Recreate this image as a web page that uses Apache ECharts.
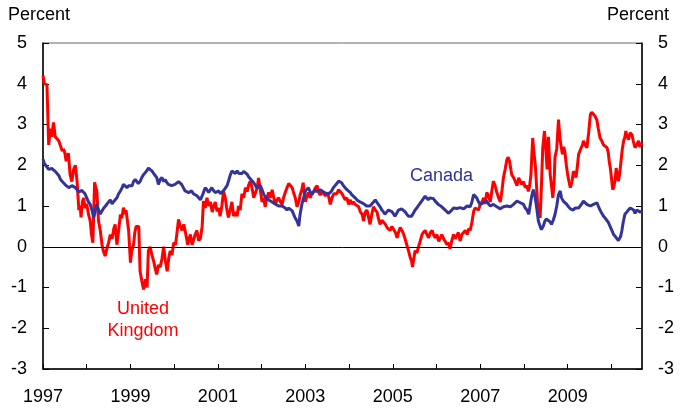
<!DOCTYPE html>
<html>
<head>
<meta charset="utf-8">
<script src="https://cdn.jsdelivr.net/npm/echarts@6/dist/echarts.min.js"></script>
<style>
html, body { margin: 0; padding: 0; background: #fff; }
#chart { width: 687px; height: 415px; }
</style>
</head>
<body>
<div id="chart"></div>
<script>
// United Kingdom (decimal year, percent)
var ukYears = [
  1997.00,1997.03,1997.09,1997.13,1997.17,1997.20,1997.24,1997.28,1997.32,1997.36,1997.40,1997.44,1997.47,1997.50,1997.53,1997.55,1997.58,1997.62,1997.66,1997.70,
  1997.74,1997.78,1997.82,1997.85,1997.87,1997.90,1997.93,1997.96,1998.00,1998.04,1998.08,1998.11,1998.14,1998.18,1998.21,1998.23,1998.27,1998.31,1998.35,1998.38,
  1998.42,1998.46,1998.50,1998.54,1998.58,1998.62,1998.65,1998.69,1998.73,1998.77,1998.80,1998.84,1998.87,1998.90,1998.96,1999.00,1999.03,1999.07,1999.10,1999.13,
  1999.19,1999.22,1999.26,1999.30,1999.34,1999.38,1999.41,1999.45,1999.49,1999.53,1999.57,1999.60,1999.64,1999.68,1999.72,1999.76,1999.80,1999.84,1999.88,1999.91,
  1999.95,1999.99,2000.03,2000.06,2000.10,2000.14,2000.18,2000.22,2000.25,2000.31,2000.34,2000.37,2000.41,2000.44,2000.48,2000.52,2000.56,2000.60,2000.64,2000.67,
  2000.71,2000.75,2000.79,2000.83,2000.87,2000.90,2000.94,2000.98,2001.02,2001.05,2001.09,2001.13,2001.17,2001.20,2001.24,2001.28,2001.32,2001.36,2001.40,2001.44,
  2001.47,2001.51,2001.55,2001.59,2001.63,2001.67,2001.70,2001.74,2001.78,2001.82,2001.86,2001.90,2001.93,2001.97,2002.01,2002.05,2002.08,2002.12,2002.16,2002.20,
  2002.24,2002.27,2002.31,2002.35,2002.39,2002.43,2002.47,2002.50,2002.54,2002.58,2002.62,2002.66,2002.70,2002.73,2002.77,2002.81,2002.85,2002.88,2002.92,2002.95,
  2002.98,2003.00,2003.04,2003.07,2003.11,2003.15,2003.19,2003.23,2003.27,2003.30,2003.34,2003.38,2003.42,2003.46,2003.51,2003.54,2003.57,2003.61,2003.65,2003.68,
  2003.72,2003.76,2003.80,2003.84,2003.87,2003.91,2003.95,2003.99,2004.03,2004.06,2004.10,2004.14,2004.18,2004.22,2004.26,2004.30,2004.33,2004.37,2004.41,2004.45,
  2004.48,2004.52,2004.56,2004.60,2004.64,2004.67,2004.71,2004.75,2004.79,2004.83,2004.87,2004.90,2004.94,2004.98,2005.02,2005.06,2005.10,2005.13,2005.17,2005.21,
  2005.25,2005.28,2005.32,2005.36,2005.40,2005.43,2005.45,2005.48,2005.51,2005.55,2005.59,2005.63,2005.67,2005.70,2005.74,2005.78,2005.82,2005.86,2005.90,2005.93,
  2005.97,2006.01,2006.05,2006.08,2006.12,2006.16,2006.20,2006.24,2006.27,2006.31,2006.35,2006.39,2006.43,2006.47,2006.50,2006.54,2006.58,2006.62,2006.66,2006.70,
  2006.74,2006.77,2006.81,2006.85,2006.88,2006.92,2006.96,2007.00,2007.04,2007.08,2007.11,2007.15,2007.19,2007.23,2007.27,2007.30,2007.34,2007.38,2007.42,2007.46,
  2007.50,2007.53,2007.57,2007.61,2007.64,2007.67,2007.70,2007.72,2007.76,2007.80,2007.84,2007.88,2007.92,2007.95,2007.99,2008.03,2008.07,2008.10,2008.13,2008.16,
  2008.20,2008.23,2008.26,2008.31,2008.34,2008.37,2008.40,2008.43,2008.47,2008.50,2008.53,2008.56,2008.60,2008.63,2008.66,2008.69,2008.71,2008.75,2008.79,2008.83,
  2008.86,2008.88,2008.91,2008.94,2008.97,2009.00,2009.03,2009.06,2009.10,2009.13,2009.16,2009.19,2009.22,2009.25,2009.28,2009.31,2009.34,2009.36,2009.40,2009.44,
  2009.48,2009.52,2009.55,2009.59,2009.63,2009.67,2009.70,2009.74,2009.78,2009.82,2009.86,2009.90,2009.93,2009.95,2009.98,2010.00,2010.03,2010.05,2010.08,2010.11,
  2010.14,2010.16,2010.19,2010.22,2010.25,2010.28,2010.31,2010.33,2010.36,2010.39,2010.43,2010.47,2010.50,2010.54,2010.58,2010.62,2010.65,2010.70
];
var ukValues = [
  4.2,4.0,3.98,2.5,2.9,2.7,3.05,2.7,2.68,2.6,2.58,2.35,2.4,2.3,2.1,2.07,2.3,1.77,1.6,1.9,
  2.0,1.6,0.9,1.0,0.72,1.1,1.2,0.95,1.05,0.8,0.63,0.3,0.1,1.58,1.45,1.37,0.63,0.4,0.05,-0.1,
  -0.23,-0.05,0.1,0.3,0.2,0.45,0.55,0.05,0.4,0.79,0.7,0.96,0.8,0.9,0.38,-0.39,-0.1,0.05,0.35,0.5,
  0.5,-0.6,-0.84,-1.05,-0.8,-1.0,-0.1,0.0,-0.2,-0.35,-0.55,-0.68,-0.45,-0.5,-0.3,0.0,-0.35,-0.6,-0.25,-0.1,
  -0.2,0.1,0.05,0.3,0.67,0.5,0.4,0.55,0.4,0.05,0.2,0.3,0.05,0.15,0.3,0.4,0.15,0.2,0.5,1.12,
  0.95,1.2,1.0,1.1,0.85,0.98,1.1,0.87,0.95,0.75,1.0,1.36,1.2,0.95,0.72,0.9,1.1,0.75,0.85,0.75,
  1.0,0.9,1.3,1.2,1.45,1.35,1.5,1.61,1.45,1.2,1.2,1.45,1.69,1.4,1.1,1.2,0.98,1.2,1.33,1.2,
  1.4,1.25,1.04,1.15,1.2,1.1,1.04,1.2,1.33,1.45,1.55,1.57,1.45,1.33,1.2,0.98,1.1,1.27,1.4,1.57,
  1.3,1.1,1.25,1.33,1.2,1.3,1.35,1.45,1.5,1.35,1.27,1.35,1.3,1.25,1.33,1.2,1.04,1.2,1.3,1.33,
  1.3,1.4,1.35,1.3,1.27,1.15,1.2,1.04,1.15,1.05,1.1,1.04,1.0,0.98,0.85,0.8,0.63,0.85,0.9,0.7,
  0.55,0.8,0.98,0.9,0.85,0.7,0.55,0.65,0.63,0.55,0.47,0.5,0.4,0.5,0.47,0.35,0.22,0.35,0.47,0.4,
  0.3,0.2,0.05,-0.1,-0.27,-0.35,-0.5,-0.3,-0.1,-0.15,0.0,0.15,0.3,0.35,0.4,0.3,0.22,0.35,0.4,0.3,
  0.22,0.3,0.13,0.2,0.3,0.2,0.13,0.05,0.1,-0.05,0.15,0.3,0.2,0.22,0.35,0.14,0.3,0.3,0.4,0.3,
  0.45,0.4,0.6,0.87,0.95,0.98,0.9,1.04,1.1,1.2,1.05,1.33,1.25,1.1,1.4,1.61,1.5,1.33,1.2,1.1,
  1.4,1.69,1.9,2.14,2.2,2.1,1.9,1.77,1.7,1.61,1.5,1.69,1.6,1.53,1.6,1.45,1.5,1.36,1.5,1.77,
  2.67,2.3,2.0,1.1,0.9,0.71,1.5,2.43,2.84,2.4,1.9,2.7,1.77,1.5,1.2,1.6,2.2,2.4,3.12,2.6,
  2.4,2.27,2.45,2.3,2.0,1.77,1.6,1.45,1.6,1.85,1.8,1.7,1.95,2.27,2.3,2.43,2.5,2.6,2.5,2.43,
  2.8,3.25,3.3,3.3,3.2,3.1,2.9,2.67,2.6,2.5,2.5,2.43,2.3,2.1,1.9,1.7,1.4,1.45,1.6,1.93,
  1.75,1.61,1.8,2.1,2.4,2.6,2.7,2.84,2.7,2.63,2.8,2.75,2.6,2.43,2.5,2.6,2.45,2.55
];

// Canada (decimal year, percent)
var caYears = [
  1997.00,1997.03,1997.06,1997.09,1997.13,1997.17,1997.20,1997.24,1997.28,1997.32,1997.36,1997.40,1997.44,1997.47,1997.51,1997.55,1997.59,1997.62,1997.66,1997.70,
  1997.74,1997.78,1997.82,1997.85,1997.89,1997.93,1997.96,1998.00,1998.04,1998.08,1998.12,1998.16,1998.20,1998.23,1998.27,1998.31,1998.35,1998.39,1998.43,1998.46,
  1998.50,1998.54,1998.58,1998.61,1998.65,1998.69,1998.73,1998.77,1998.81,1998.84,1998.88,1998.92,1998.96,1999.00,1999.04,1999.07,1999.11,1999.14,1999.18,1999.22,
  1999.26,1999.30,1999.34,1999.37,1999.41,1999.45,1999.49,1999.53,1999.56,1999.60,1999.64,1999.68,1999.72,1999.76,1999.79,1999.83,1999.87,1999.91,1999.94,1999.98,
  2000.02,2000.06,2000.10,2000.13,2000.17,2000.21,2000.25,2000.29,2000.33,2000.37,2000.40,2000.44,2000.48,2000.52,2000.56,2000.60,2000.62,2000.66,2000.71,2000.75,
  2000.79,2000.83,2000.86,2000.90,2000.94,2000.98,2001.02,2001.06,2001.09,2001.13,2001.17,2001.21,2001.24,2001.28,2001.32,2001.36,2001.40,2001.44,2001.48,2001.51,
  2001.55,2001.59,2001.63,2001.67,2001.70,2001.74,2001.78,2001.82,2001.86,2001.89,2001.93,2001.97,2002.01,2002.05,2002.09,2002.12,2002.16,2002.20,2002.24,2002.28,
  2002.31,2002.35,2002.39,2002.43,2002.47,2002.50,2002.54,2002.58,2002.62,2002.66,2002.70,2002.73,2002.77,2002.81,2002.85,2002.88,2002.92,2002.96,2003.00,2003.04,
  2003.07,2003.11,2003.15,2003.19,2003.22,2003.26,2003.30,2003.34,2003.37,2003.41,2003.45,2003.49,2003.53,2003.56,2003.60,2003.64,2003.68,2003.72,2003.76,2003.80,
  2003.83,2003.87,2003.91,2003.95,2003.99,2004.03,2004.06,2004.10,2004.14,2004.18,2004.21,2004.25,2004.29,2004.33,2004.36,2004.40,2004.44,2004.48,2004.52,2004.56,
  2004.60,2004.63,2004.67,2004.71,2004.75,2004.79,2004.82,2004.86,2004.90,2004.94,2004.98,2005.02,2005.05,2005.09,2005.13,2005.17,2005.20,2005.24,2005.28,2005.32,
  2005.36,2005.40,2005.43,2005.47,2005.51,2005.55,2005.58,2005.62,2005.66,2005.70,2005.74,2005.77,2005.81,2005.85,2005.89,2005.93,2005.97,2006.01,2006.04,2006.08,
  2006.12,2006.16,2006.20,2006.24,2006.27,2006.31,2006.35,2006.39,2006.43,2006.47,2006.50,2006.54,2006.58,2006.62,2006.66,2006.70,2006.74,2006.77,2006.81,2006.85,
  2006.88,2006.92,2006.96,2007.00,2007.04,2007.08,2007.11,2007.15,2007.19,2007.23,2007.27,2007.30,2007.34,2007.38,2007.42,2007.46,2007.50,2007.53,2007.57,2007.61,
  2007.65,2007.69,2007.72,2007.76,2007.80,2007.84,2007.88,2007.92,2007.95,2007.99,2008.03,2008.07,2008.11,2008.14,2008.17,2008.20,2008.22,2008.25,2008.28,2008.31,
  2008.33,2008.37,2008.40,2008.44,2008.48,2008.51,2008.55,2008.59,2008.63,2008.67,2008.71,2008.75,2008.79,2008.83,2008.86,2008.90,2008.94,2008.98,2009.02,2009.06,
  2009.09,2009.13,2009.17,2009.21,2009.25,2009.29,2009.32,2009.36,2009.40,2009.44,2009.48,2009.52,2009.55,2009.59,2009.63,2009.67,2009.70,2009.74,2009.78,2009.82,
  2009.86,2009.90,2009.93,2009.97,2010.01,2010.05,2010.09,2010.13,2010.16,2010.18,2010.21,2010.24,2010.27,2010.31,2010.35,2010.39,2010.43,2010.47,2010.51,2010.54,
  2010.58,2010.62,2010.66,2010.70
];
var caValues = [
  2.15,2.05,2.0,2.0,1.9,1.86,1.92,1.9,1.85,1.86,1.75,1.65,1.6,1.58,1.52,1.5,1.45,1.47,1.5,1.53,
  1.45,1.43,1.35,1.33,1.38,1.37,1.3,1.2,1.1,1.04,0.9,0.71,0.9,1.04,0.9,0.8,0.88,0.95,1.0,1.04,
  1.1,1.15,1.05,1.1,1.12,1.2,1.3,1.37,1.45,1.53,1.5,1.45,1.5,1.53,1.5,1.6,1.65,1.67,1.55,1.6,
  1.7,1.77,1.8,1.86,1.93,1.9,1.86,1.8,1.77,1.7,1.53,1.65,1.7,1.6,1.65,1.58,1.53,1.55,1.5,1.52,
  1.53,1.55,1.6,1.57,1.53,1.45,1.37,1.35,1.33,1.37,1.37,1.3,1.28,1.25,1.2,1.15,1.12,1.3,1.45,1.4,
  1.33,1.4,1.45,1.38,1.33,1.35,1.37,1.3,1.33,1.38,1.4,1.5,1.6,1.75,1.86,1.82,1.8,1.86,1.8,1.78,
  1.8,1.85,1.86,1.78,1.72,1.7,1.62,1.57,1.5,1.45,1.48,1.5,1.4,1.28,1.22,1.2,1.15,1.12,1.1,1.08,
  1.05,1.04,1.0,0.98,1.0,1.04,0.95,0.9,0.95,0.98,0.88,0.8,0.7,0.63,0.51,0.8,1.04,1.2,1.37,1.4,
  1.45,1.35,1.28,1.35,1.4,1.35,1.33,1.4,1.37,1.35,1.33,1.3,1.28,1.32,1.37,1.45,1.5,1.55,1.61,1.6,
  1.57,1.5,1.45,1.4,1.37,1.33,1.28,1.25,1.2,1.15,1.12,1.1,1.08,1.06,1.04,1.0,0.98,1.0,1.04,1.1,
  1.15,1.1,1.04,0.98,0.9,0.85,0.8,0.85,0.9,0.88,0.86,0.8,0.75,0.82,0.9,0.92,0.93,0.9,0.86,0.8,
  0.75,0.72,0.75,0.82,0.9,0.95,1.0,1.06,1.12,1.18,1.24,1.2,1.15,1.2,1.24,1.18,1.12,1.08,1.04,1.0,
  0.98,0.94,0.9,0.86,0.82,0.86,0.9,0.95,0.98,0.94,0.9,0.96,0.98,0.93,0.97,1.0,0.98,0.98,1.1,1.28,
  1.25,1.2,1.1,1.04,1.06,1.08,1.1,1.12,1.05,1.0,1.02,1.04,1.0,0.98,0.95,0.93,0.96,0.98,1.0,1.0,
  0.97,0.98,1.0,1.04,1.08,1.12,1.1,1.08,1.06,1.04,0.95,0.9,0.8,1.0,1.2,1.35,1.4,1.25,1.04,0.8,
  0.63,0.5,0.42,0.5,0.63,0.68,0.71,0.62,0.55,0.65,0.79,1.0,1.28,1.37,1.2,1.12,1.1,1.04,0.98,0.93,
  0.92,0.9,0.95,0.93,0.95,0.98,1.05,1.12,1.08,1.04,1.02,1.0,1.02,1.04,1.06,1.08,1.0,0.9,0.82,0.75,
  0.7,0.66,0.6,0.5,0.4,0.3,0.25,0.22,0.15,0.18,0.25,0.4,0.6,0.8,0.85,0.9,0.95,0.98,0.9,0.82,
  0.9,0.9,0.85,0.88
];

var yearLabels = [1997, 1999, 2001, 2003, 2005, 2007, 2009];
var yTicks = [-3, -2, -1, 0, 1, 2, 3, 4, 5];

var RED = '#ff0000';
var BLUE = '#333399';
var FONT = 'Liberation Sans, Arial, sans-serif';

function zip(xs, ys) {
  return xs.map(function (x, i) { return [x, ys[i]]; });
}

var chart = echarts.init(document.getElementById('chart'));

var yAxisBase = {
  type: 'value',
  min: yTicks[0],
  max: yTicks[yTicks.length - 1],
  interval: 1,
  splitLine: { show: false },
  axisLine: { show: true, lineStyle: { color: '#000', width: 1.5 } },
  axisTick: { show: true, inside: true, length: 6, lineStyle: { color: '#000', width: 1 } },
  axisLabel: { color: '#000', fontSize: 18, fontFamily: FONT, margin: 16 }
};

chart.setOption({
  animation: false,
  backgroundColor: '#fff',
  grid: {
    left: 43, right: 45, top: 43, bottom: 46,
    show: true, borderColor: '#666', borderWidth: 1, backgroundColor: 'transparent'
  },
  xAxis: {
    type: 'value',
    min: 1997,
    max: 2010.7,
    interval: 1,
    splitLine: { show: false },
    axisLine: { show: true, onZero: false, lineStyle: { color: '#000', width: 1.5 } },
    axisTick: { show: true, inside: true, length: 5, lineStyle: { color: '#000', width: 1 } },
    axisLabel: {
      color: '#000', fontSize: 18, fontFamily: FONT, margin: 19,
      showMaxLabel: false,
      formatter: function (v) {
        return yearLabels.indexOf(Math.round(v)) >= 0 ? String(Math.round(v)) : '';
      }
    }
  },
  yAxis: [
    Object.assign({}, yAxisBase, { position: 'left' }),
    Object.assign({}, yAxisBase, { position: 'right' })
  ],
  graphic: [
    { type: 'text', left: 8, top: 6, style: { text: 'Percent', fill: '#000', font: '18px ' + FONT } },
    { type: 'text', right: 18, top: 6, style: { text: 'Percent', fill: '#000', font: '18px ' + FONT } },
    { type: 'text', x: 410, y: 167, style: { text: 'Canada', fill: BLUE, font: '18px ' + FONT } },
    { type: 'text', x: 143, y: 300, style: { text: 'United', fill: RED, font: '18px ' + FONT, align: 'center' } },
    { type: 'text', x: 143, y: 322, style: { text: 'Kingdom', fill: RED, font: '18px ' + FONT, align: 'center' } }
  ],
  series: [
    {
      name: 'United Kingdom',
      type: 'line',
      data: zip(ukYears, ukValues),
      showSymbol: false,
      lineStyle: { color: RED, width: 3 },
      markLine: {
        silent: true,
        symbol: 'none',
        label: { show: false },
        lineStyle: { color: '#000', width: 1, type: 'solid' },
        data: [{ yAxis: 0 }]
      },
      z: 2
    },
    {
      name: 'Canada',
      type: 'line',
      data: zip(caYears, caValues),
      showSymbol: false,
      lineStyle: { color: BLUE, width: 3 },
      z: 3
    }
  ]
});
</script>
</body>
</html>
